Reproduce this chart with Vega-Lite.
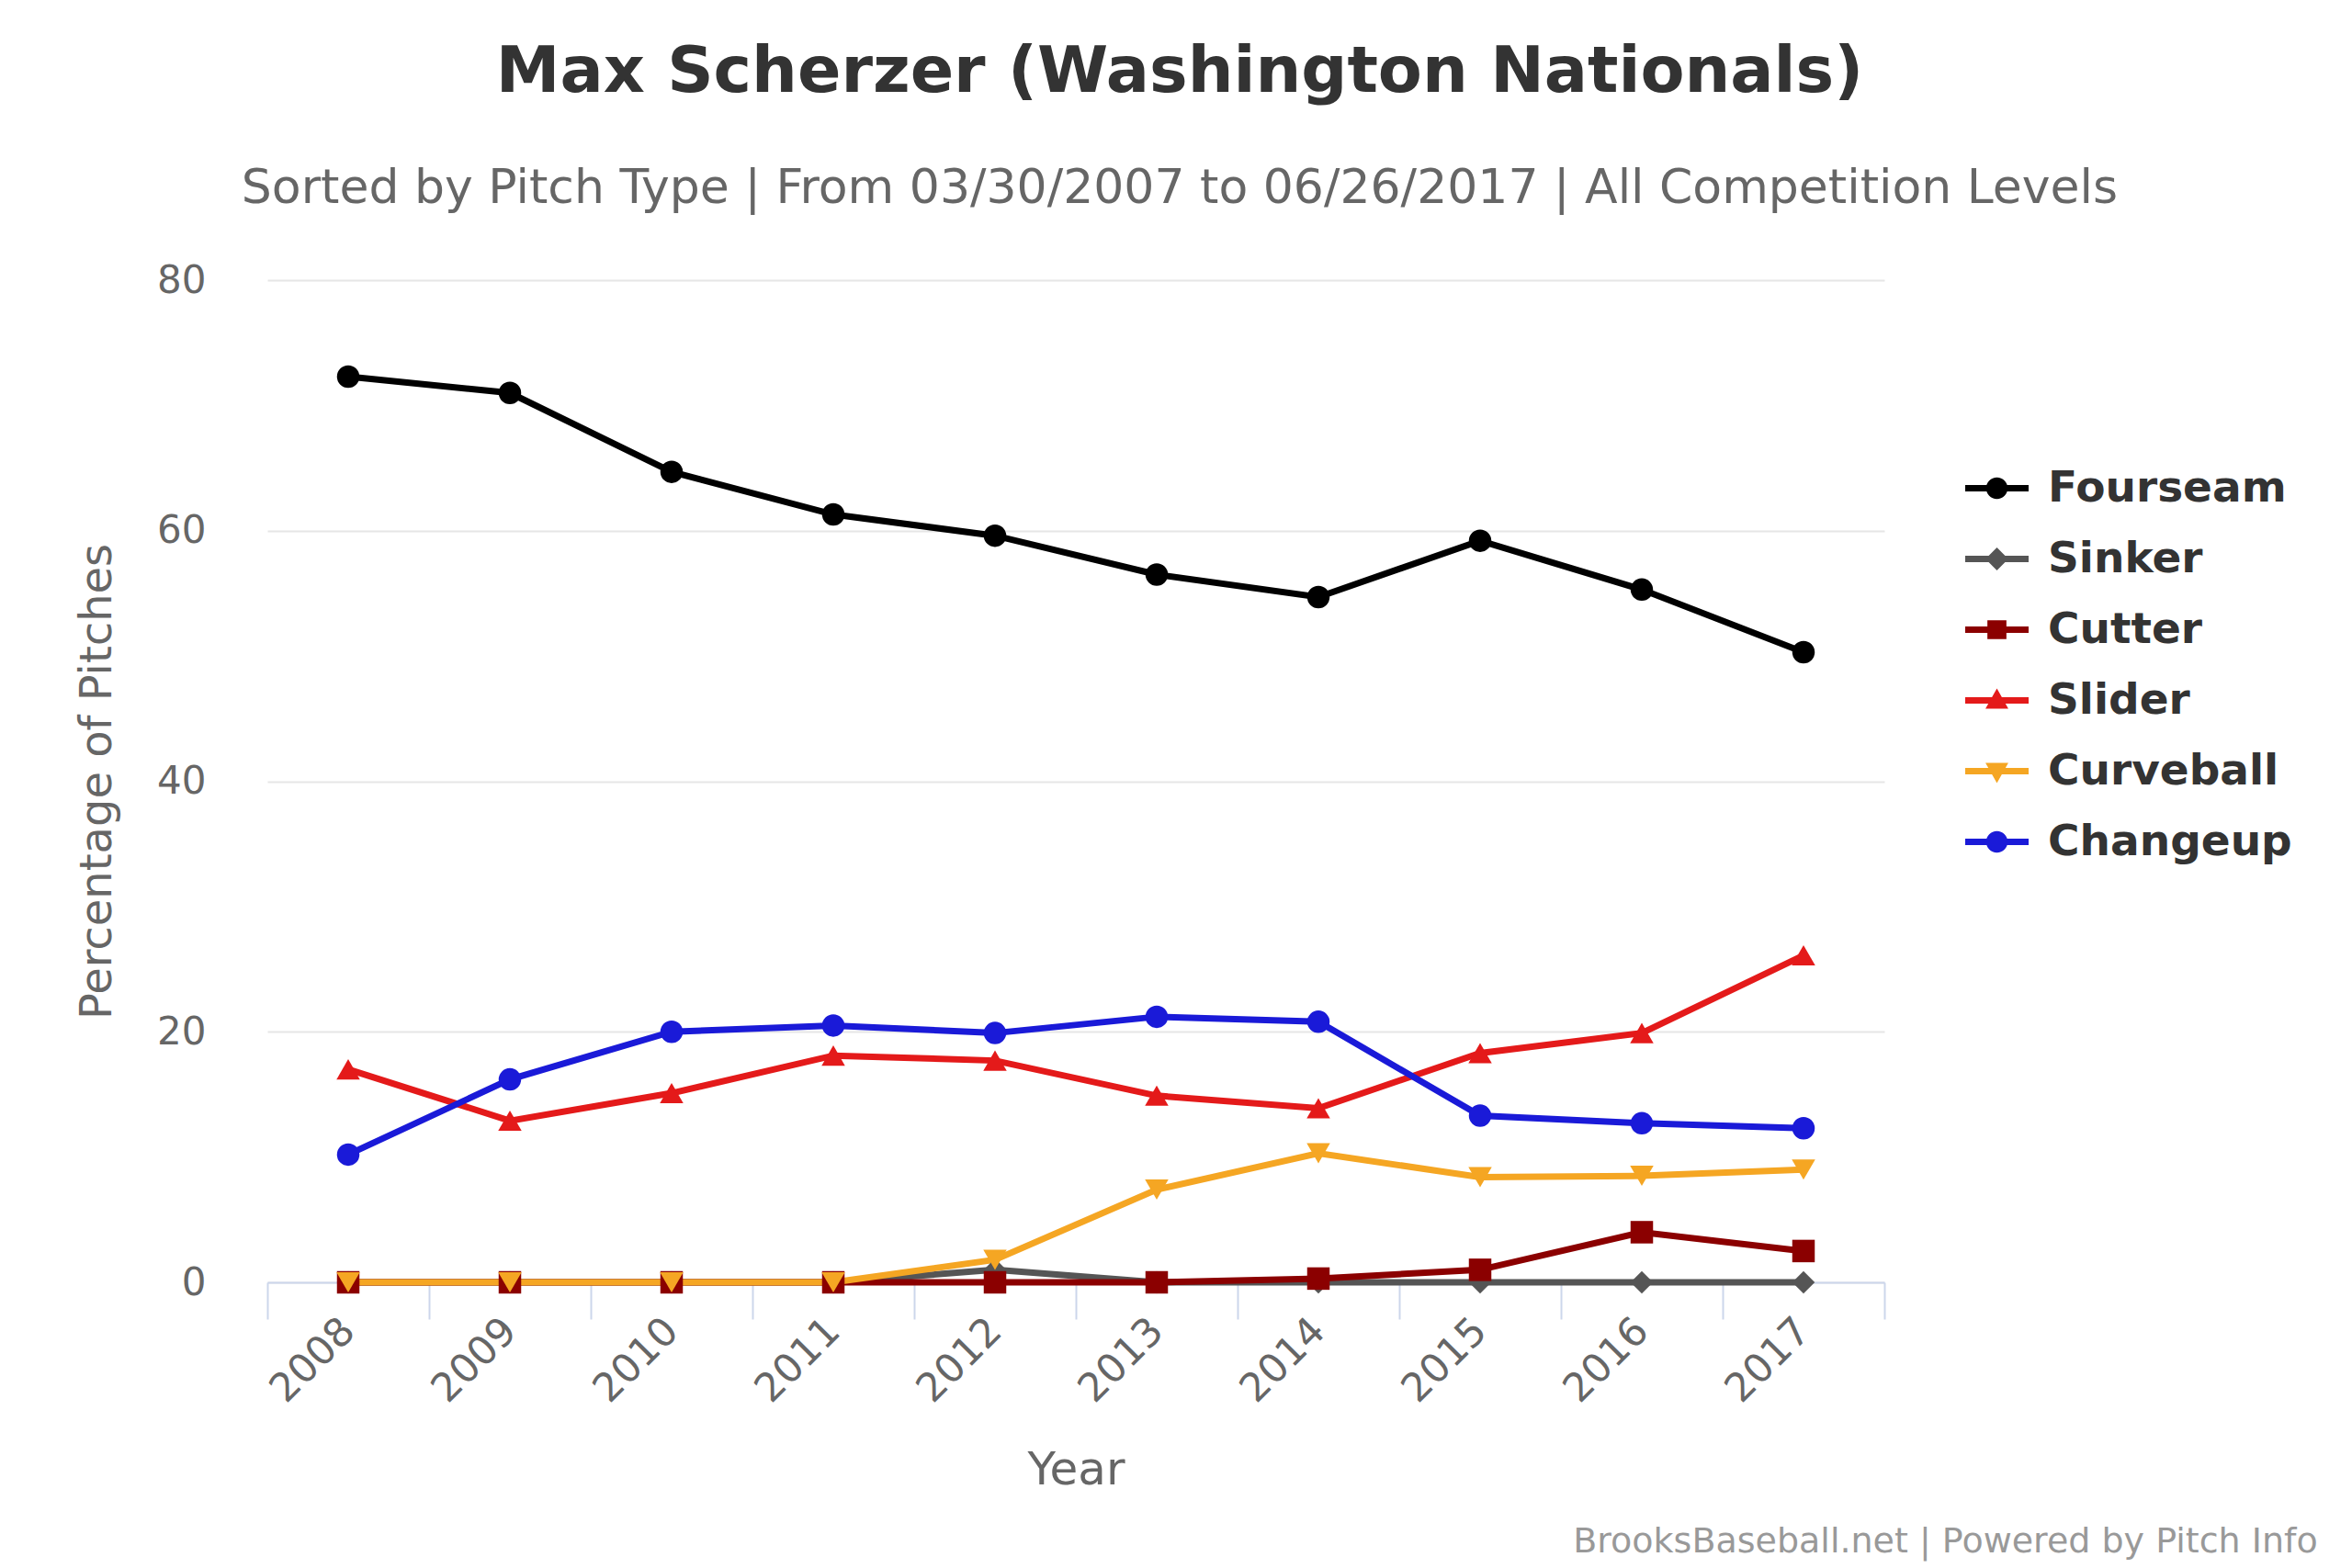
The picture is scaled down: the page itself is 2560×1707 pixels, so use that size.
{
  "$schema": "https://vega.github.io/schema/vega-lite/v6.json",
  "autosize": {"type": "none"},
  "padding": {"left": 291, "top": 305, "right": 509, "bottom": 311},
  "width": 1760,
  "height": 1091,
  "background": "#ffffff",
  "title": {
    "text": "Max Scherzer (Washington Nationals)",
    "subtitle": "Sorted by Pitch Type | From 03/30/2007 to 06/26/2017 | All Competition Levels",
    "anchor": "middle",
    "frame": "group",
    "dx": 113,
    "offset": 52,
    "subtitlePadding": 65,
    "font": "DejaVu Sans",
    "fontSize": 70,
    "fontWeight": "bold",
    "color": "#333333",
    "subtitleFont": "DejaVu Sans",
    "subtitleFontSize": 52,
    "subtitleColor": "#666666"
  },
  "config": {
    "view": {"stroke": null},
    "font": "DejaVu Sans"
  },
  "datasets": {
    "pitches": [
      {"pitch": "Fourseam", "year": 2008, "pct": 72.3},
      {"pitch": "Fourseam", "year": 2009, "pct": 71.0},
      {"pitch": "Fourseam", "year": 2010, "pct": 64.7},
      {"pitch": "Fourseam", "year": 2011, "pct": 61.3},
      {"pitch": "Fourseam", "year": 2012, "pct": 59.6},
      {"pitch": "Fourseam", "year": 2013, "pct": 56.5},
      {"pitch": "Fourseam", "year": 2014, "pct": 54.7},
      {"pitch": "Fourseam", "year": 2015, "pct": 59.2},
      {"pitch": "Fourseam", "year": 2016, "pct": 55.3},
      {"pitch": "Fourseam", "year": 2017, "pct": 50.3},
      {"pitch": "Sinker", "year": 2008, "pct": 0},
      {"pitch": "Sinker", "year": 2009, "pct": 0},
      {"pitch": "Sinker", "year": 2010, "pct": 0},
      {"pitch": "Sinker", "year": 2011, "pct": 0},
      {"pitch": "Sinker", "year": 2012, "pct": 1.0},
      {"pitch": "Sinker", "year": 2013, "pct": 0},
      {"pitch": "Sinker", "year": 2014, "pct": 0},
      {"pitch": "Sinker", "year": 2015, "pct": 0},
      {"pitch": "Sinker", "year": 2016, "pct": 0},
      {"pitch": "Sinker", "year": 2017, "pct": 0},
      {"pitch": "Cutter", "year": 2008, "pct": 0},
      {"pitch": "Cutter", "year": 2009, "pct": 0},
      {"pitch": "Cutter", "year": 2010, "pct": 0},
      {"pitch": "Cutter", "year": 2011, "pct": 0},
      {"pitch": "Cutter", "year": 2012, "pct": 0},
      {"pitch": "Cutter", "year": 2013, "pct": 0},
      {"pitch": "Cutter", "year": 2014, "pct": 0.3},
      {"pitch": "Cutter", "year": 2015, "pct": 1.0},
      {"pitch": "Cutter", "year": 2016, "pct": 4.0},
      {"pitch": "Cutter", "year": 2017, "pct": 2.5},
      {"pitch": "Slider", "year": 2008, "pct": 17.0},
      {"pitch": "Slider", "year": 2009, "pct": 12.9},
      {"pitch": "Slider", "year": 2010, "pct": 15.1},
      {"pitch": "Slider", "year": 2011, "pct": 18.1},
      {"pitch": "Slider", "year": 2012, "pct": 17.7},
      {"pitch": "Slider", "year": 2013, "pct": 14.9},
      {"pitch": "Slider", "year": 2014, "pct": 13.9},
      {"pitch": "Slider", "year": 2015, "pct": 18.3},
      {"pitch": "Slider", "year": 2016, "pct": 19.9},
      {"pitch": "Slider", "year": 2017, "pct": 26.1},
      {"pitch": "Curveball", "year": 2008, "pct": 0},
      {"pitch": "Curveball", "year": 2009, "pct": 0},
      {"pitch": "Curveball", "year": 2010, "pct": 0},
      {"pitch": "Curveball", "year": 2011, "pct": 0},
      {"pitch": "Curveball", "year": 2012, "pct": 1.8},
      {"pitch": "Curveball", "year": 2013, "pct": 7.4},
      {"pitch": "Curveball", "year": 2014, "pct": 10.3},
      {"pitch": "Curveball", "year": 2015, "pct": 8.4},
      {"pitch": "Curveball", "year": 2016, "pct": 8.5},
      {"pitch": "Curveball", "year": 2017, "pct": 9.0},
      {"pitch": "Changeup", "year": 2008, "pct": 10.2},
      {"pitch": "Changeup", "year": 2009, "pct": 16.2},
      {"pitch": "Changeup", "year": 2010, "pct": 20.0},
      {"pitch": "Changeup", "year": 2011, "pct": 20.5},
      {"pitch": "Changeup", "year": 2012, "pct": 19.9},
      {"pitch": "Changeup", "year": 2013, "pct": 21.2},
      {"pitch": "Changeup", "year": 2014, "pct": 20.8},
      {"pitch": "Changeup", "year": 2015, "pct": 13.3},
      {"pitch": "Changeup", "year": 2016, "pct": 12.7},
      {"pitch": "Changeup", "year": 2017, "pct": 12.3}
    ],
    "credits": [
      {"credit": "BrooksBaseball.net | Powered by Pitch Info", "cx": 2020.18, "cy": -20.75}
    ]
  },
  "layer": [
    {
      "data": {"name": "pitches"},
      "mark": {"type": "line", "strokeWidth": 7},
      "encoding": {
        "x": {
          "field": "year",
          "type": "quantitative",
          "scale": {"domain": [2007.5, 2017.5], "nice": false, "zero": false},
          "axis": {
            "title": "Year",
            "titleFont": "DejaVu Sans",
            "titleFontSize": 50,
            "titleFontWeight": "normal",
            "titleColor": "#666666",
            "titlePadding": 41,
            "values": [2007.5, 2008, 2008.5, 2009, 2009.5, 2010, 2010.5, 2011, 2011.5, 2012, 2012.5, 2013, 2013.5, 2014, 2014.5, 2015, 2015.5, 2016, 2016.5, 2017, 2017.5],
            "labelExpr": "datum.value % 1 === 0 ? '' + datum.value : ''",
            "labelAngle": -45,
            "labelAlign": "right",
            "labelBaseline": "middle",
            "labelFont": "DejaVu Sans",
            "labelFontSize": 43,
            "labelColor": "#666666",
            "labelPadding": 6,
            "labelOverlap": false,
            "labelFlush": false,
            "labelBound": false,
            "grid": false,
            "domainColor": "#ccd6eb",
            "domainWidth": 2,
            "tickColor": "#ccd6eb",
            "tickWidth": 2,
            "tickSize": 40,
            "tickOpacity": {"condition": {"test": "datum.value % 1 === 0", "value": 0}, "value": 1}
          }
        },
        "y": {
          "field": "pct",
          "type": "quantitative",
          "scale": {"domain": [0, 80], "nice": false},
          "axis": {
            "title": "Percentage of Pitches",
            "titleFont": "DejaVu Sans",
            "titleFontSize": 48,
            "titleFontWeight": "normal",
            "titleColor": "#666666",
            "titlePadding": 40,
            "values": [0, 20, 40, 60, 80],
            "labelFont": "DejaVu Sans",
            "labelFontSize": 42,
            "labelColor": "#666666",
            "labelPadding": 67,
            "ticks": false,
            "domain": false,
            "grid": true,
            "gridColor": "#e6e6e6",
            "gridWidth": 2
          }
        },
        "color": {
          "field": "pitch",
          "type": "nominal",
          "scale": {
            "domain": ["Fourseam", "Sinker", "Cutter", "Slider", "Curveball", "Changeup"],
            "range": ["#000000", "#555555", "#8b0000", "#e41a1a", "#f5a623", "#1a1ad8"]
          },
          "legend": {
            "title": null,
            "orient": "none",
            "legendX": 1848,
            "legendY": 192,
            "labelFont": "DejaVu Sans",
            "labelFontSize": 47,
            "labelFontWeight": "bold",
            "labelColor": "#333333",
            "labelOffset": 21,
            "symbolSize": 4761,
            "symbolStrokeWidth": 0,
            "rowPadding": 19,
            "labelLimit": 0,
            "encode": {
              "symbols": {
                "update": {
                  "shape": {"signal": "datum.value === 'Sinker' ? 'M-1,-0.1H1V0.1H-1Z M0,-0.36L0.36,0L0,0.36L-0.36,0Z' : datum.value === 'Cutter' ? 'M-1,-0.1H1V0.1H-1Z M-0.3,-0.3H0.3V0.3H-0.3Z' : datum.value === 'Slider' ? 'M-1,-0.1H1V0.1H-1Z M0,-0.38L0.36,0.26H-0.36Z' : datum.value === 'Curveball' ? 'M-1,-0.1H1V0.1H-1Z M0,0.38L-0.36,-0.26H0.36Z' : 'M-1,-0.1H1V0.1H-1Z M-0.34,0A0.34,0.34 0 1,1 0.34,0A0.34,0.34 0 1,1 -0.34,0Z'"},
                  "fill": {"scale": "color", "field": "value"},
                  "opacity": {"value": 1}
                }
              }
            }
          }
        }
      }
    },
    {
      "data": {"name": "pitches"},
      "transform": [{"filter": "datum.pitch === 'Fourseam'"}],
      "mark": {"type": "point", "filled": true, "opacity": 1, "shape": "circle", "size": 600},
      "encoding": {
        "x": {"field": "year", "type": "quantitative"},
        "y": {"field": "pct", "type": "quantitative"},
        "color": {"field": "pitch", "type": "nominal"}
      }
    },
    {
      "data": {"name": "pitches"},
      "transform": [{"filter": "datum.pitch === 'Sinker'"}],
      "mark": {"type": "point", "filled": true, "opacity": 1, "shape": "diamond", "size": 600},
      "encoding": {
        "x": {"field": "year", "type": "quantitative"},
        "y": {"field": "pct", "type": "quantitative"},
        "color": {"field": "pitch", "type": "nominal"}
      }
    },
    {
      "data": {"name": "pitches"},
      "transform": [{"filter": "datum.pitch === 'Cutter'"}],
      "mark": {"type": "point", "filled": true, "opacity": 1, "shape": "square", "size": 600},
      "encoding": {
        "x": {"field": "year", "type": "quantitative"},
        "y": {"field": "pct", "type": "quantitative"},
        "color": {"field": "pitch", "type": "nominal"}
      }
    },
    {
      "data": {"name": "pitches"},
      "transform": [{"filter": "datum.pitch === 'Slider'"}],
      "mark": {"type": "point", "filled": true, "opacity": 1, "shape": "triangle-up", "size": 650},
      "encoding": {
        "x": {"field": "year", "type": "quantitative"},
        "y": {"field": "pct", "type": "quantitative"},
        "color": {"field": "pitch", "type": "nominal"}
      }
    },
    {
      "data": {"name": "pitches"},
      "transform": [{"filter": "datum.pitch === 'Curveball'"}],
      "mark": {"type": "point", "filled": true, "opacity": 1, "shape": "triangle-down", "size": 650},
      "encoding": {
        "x": {"field": "year", "type": "quantitative"},
        "y": {"field": "pct", "type": "quantitative"},
        "color": {"field": "pitch", "type": "nominal"}
      }
    },
    {
      "data": {"name": "pitches"},
      "transform": [{"filter": "datum.pitch === 'Changeup'"}],
      "mark": {"type": "point", "filled": true, "opacity": 1, "shape": "circle", "size": 600},
      "encoding": {
        "x": {"field": "year", "type": "quantitative"},
        "y": {"field": "pct", "type": "quantitative"},
        "color": {"field": "pitch", "type": "nominal"}
      }
    },
    {
      "data": {"name": "credits"},
      "mark": {"type": "text", "align": "right", "baseline": "middle", "font": "DejaVu Sans", "fontSize": 38, "fill": "#999999"},
      "encoding": {
        "x": {"field": "cx", "type": "quantitative"},
        "y": {"field": "cy", "type": "quantitative"},
        "text": {"field": "credit", "type": "nominal"}
      }
    }
  ]
}
